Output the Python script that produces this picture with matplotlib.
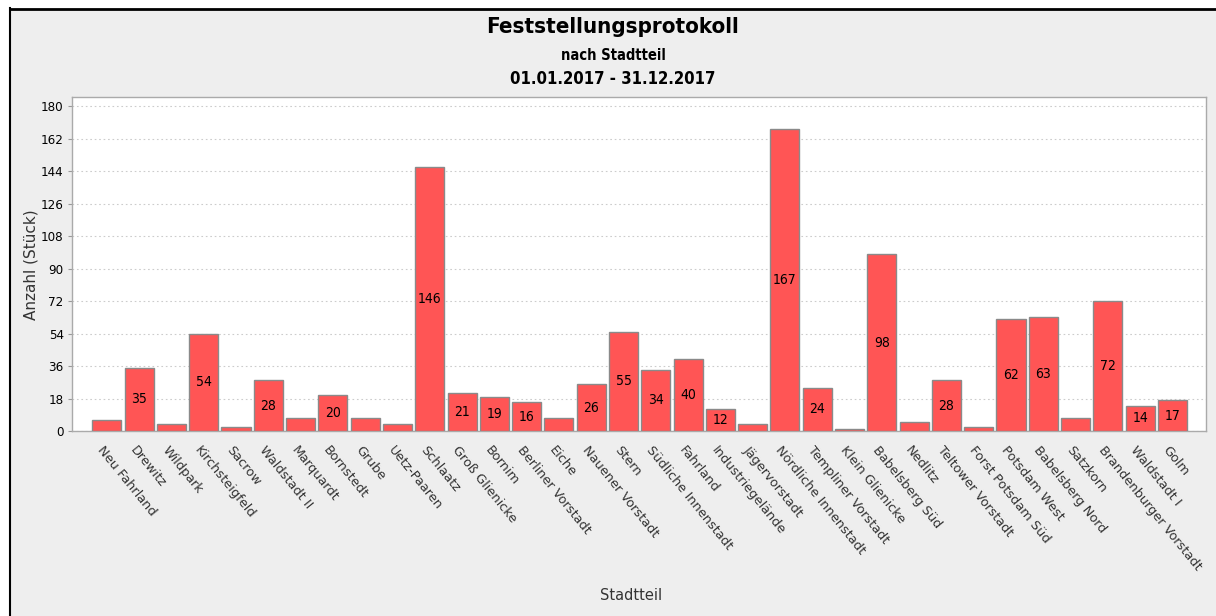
import numpy as np
import matplotlib.pyplot as plt
from matplotlib.lines import Line2D

stadtteile = ['Neu Fahrland', 'Drewitz', 'Wildpark', 'Kirchsteigfeld', 'Sacrow',
              'Waldstadt II', 'Marquardt', 'Bornstedt', 'Grube', 'Uetz-Paaren',
              'Schlaatz', 'Groß Glienicke', 'Bornim', 'Berliner Vorstadt', 'Eiche',
              'Nauener Vorstadt', 'Stern', 'Südliche Innenstadt', 'Fahrland',
              'Industriegelände', 'Jägervorstadt', 'Nördliche Innenstadt',
              'Templiner Vorstadt', 'Klein Glienicke', 'Babelsberg Süd', 'Nedlitz',
              'Teltower Vorstadt', 'Forst Potsdam Süd', 'Potsdam West',
              'Babelsberg Nord', 'Satzkorn', 'Brandenburger Vorstadt', 'Waldstadt I',
              'Golm']
anzahl = [6, 35, 4, 54, 2, 28, 7, 20, 7, 4, 146, 21, 19, 16, 7, 26, 55, 34, 40,
          12, 4, 167, 24, 1, 98, 5, 28, 2, 62, 63, 7, 72, 14, 17]
y_ticks = [0, 18, 36, 54, 72, 90, 108, 126, 144, 162, 180]

cond = dict(family='DejaVu Sans', fontstretch='condensed')
bg = '#eeeeee'

fig = plt.figure(figsize=(12.16, 6.16), dpi=100, facecolor='white')
fig.patches.append(plt.Rectangle((10 / 1216, 0), 1, 1 - 9 / 616, transform=fig.transFigure,
                                 facecolor=bg, edgecolor='none', zorder=-10))
fig.lines.append(Line2D([10 / 1216, 10 / 1216], [0, 1 - 8 / 616], transform=fig.transFigure,
                        color='black', lw=1.5))
fig.lines.append(Line2D([10 / 1216, 1], [1 - 8.5 / 616, 1 - 8.5 / 616], transform=fig.transFigure,
                        color='black', lw=2))

ax = fig.add_axes([72 / 1216, 185 / 616, 1134 / 1216, 334 / 616])
ax.set_facecolor('white')

x = np.arange(len(stadtteile))
ax.bar(x, anzahl, width=0.9, color='#ff5555', edgecolor='#8a8a8a', linewidth=1, zorder=3)
for xi, v in zip(x, anzahl):
    if v >= 12:
        ax.text(xi, v / 2, str(v), ha='center', va='center', fontsize=10,
                color='black', zorder=4, **cond)

xlim = (-1.08, 34.04)
ax.set_xlim(*xlim)
ax.set_ylim(0, 185)
ax.set_yticks(y_ticks)
ax.set_yticklabels([str(t) for t in y_ticks], fontsize=9.5, **cond)
ax.grid(axis='y', linestyle=(0, (1.5, 2.5)), color='#cccccc', linewidth=0.8, zorder=0)
ax.set_xticks([])
ax.tick_params(axis='y', length=3, color='#999999', pad=3)
for s in ax.spines.values():
    s.set_color('#aaaaaa')
    s.set_linewidth(1)

# category labels start a little left of the bar centre
shift = 0.06
lab = ax.twiny()
lab.set_xlim(xlim[0] + shift, xlim[1] + shift)
lab.xaxis.set_ticks_position('bottom')
lab.xaxis.set_label_position('bottom')
lab.set_xticks(x)
lab.set_xticklabels(stadtteile, rotation=-51, ha='left', va='top', rotation_mode='anchor',
                    fontsize=9.3, color='#333333')
lab.tick_params(axis='x', length=0, pad=9)
for s in lab.spines.values():
    s.set_visible(False)

fig.text(31 / 1216, 1 - 265 / 616, 'Anzahl (Stück)', rotation=90, ha='center', va='center',
         fontsize=11, color='#333333')
fig.text(631 / 1216, 1 - 596 / 616, 'Stadtteil', ha='center', va='center',
         fontsize=10.5, color='#333333')

fig.text(613 / 1216, 1 - 27 / 616, 'Feststellungsprotokoll', ha='center', va='center',
         fontsize=16, fontweight='bold', **cond)
fig.text(613 / 1216, 1 - 56 / 616, 'nach Stadtteil', ha='center', va='center',
         fontsize=10.5, fontweight='bold', **cond)
fig.text(613 / 1216, 1 - 79 / 616, '01.01.2017 - 31.12.2017', ha='center', va='center',
         fontsize=12, fontweight='bold', **cond)

fig.savefig('out.png', dpi=100, facecolor=fig.get_facecolor())
